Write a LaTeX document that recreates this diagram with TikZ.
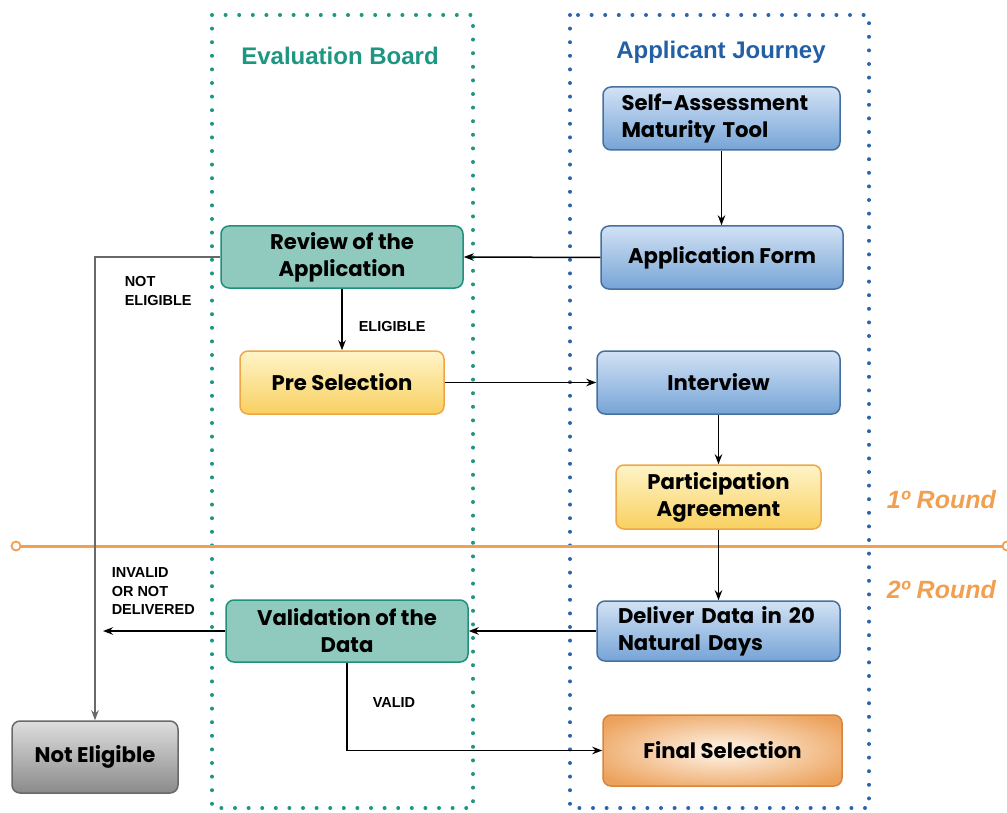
\documentclass[tikz,border=0pt]{standalone}
\usepackage{fontspec}
\setmainfont{Poppins}
\newfontfamily\arialfont{Liberation Sans}
\usetikzlibrary{arrows.meta}
\definecolor{node_blue_top}{RGB}{210,226,245}
\definecolor{node_blue_bot}{RGB}{118,164,214}
\definecolor{edge_blue}{RGB}{70,112,160}
\definecolor{node_teal}{RGB}{144,202,190}
\definecolor{edge_teal}{RGB}{30,145,125}
\definecolor{node_yel_top}{RGB}{255,244,200}
\definecolor{node_yel_bot}{RGB}{248,208,96}
\definecolor{edge_yel}{RGB}{240,165,70}
\definecolor{node_org_in}{RGB}{252,232,212}
\definecolor{node_org_out}{RGB}{236,162,92}
\definecolor{edge_org}{RGB}{214,134,60}
\definecolor{node_gray_top}{RGB}{222,222,222}
\definecolor{node_gray_bot}{RGB}{138,138,138}
\definecolor{edge_gray}{RGB}{105,105,105}
\definecolor{lane_teal}{RGB}{30,150,130}
\definecolor{lane_blue}{RGB}{45,100,175}
\definecolor{title_blue}{RGB}{35,95,165}
\definecolor{round_org}{RGB}{240,160,80}
\pgfdeclareradialshading{finshade}{\pgfpoint{0bp}{0bp}}{color(0bp)=(node_org_in); color(5bp)=(node_org_in); color(31bp)=(node_org_out); color(50bp)=(node_org_out)}

\begin{document}
\begin{tikzpicture}[x=1pt,y=-1pt,>={Stealth[length=10pt,width=7.5pt]},line width=1.5pt]
    \tikzstyle{box}=[rectangle, rounded corners=8pt, line width=1.5pt, inner sep=0pt,
      font=\fontsize{21.2}{27}\selectfont\bfseries, text=black, align=center]
    \tikzstyle{blue}=[style=box, draw=edge_blue, top color=node_blue_top, bottom color=node_blue_bot]
    \tikzstyle{teal}=[style=box, draw=edge_teal, fill=node_teal]
    \tikzstyle{yel}=[style=box, draw=edge_yel, top color=node_yel_top, bottom color=node_yel_bot]
    \tikzstyle{org}=[style=box, draw=edge_org, shading=finshade]
    \tikzstyle{gry}=[style=box, draw=edge_gray, top color=node_gray_top, bottom color=node_gray_bot]
    \tikzstyle{lane}=[line width=4pt, line cap=round, dash pattern=on 0pt off 13.6pt]
    \tikzstyle{lbl}=[font=\arialfont\fontsize{14.5}{18.5}\selectfont\bfseries, align=left, inner sep=0pt]
    \tikzstyle{rnd}=[font=\arialfont\fontsize{25}{30}\selectfont\bfseries\itshape, text=round_org, anchor=west, inner sep=0pt]

    \useasboundingbox (0,0) rectangle (1007,813);

    % swimlanes
    \draw[lane, lane_teal] (212,15) rectangle (473,808);
    \draw[lane, lane_blue] (570,15) rectangle (869,808);
    \node[font=\arialfont\fontsize{24}{28}\selectfont\bfseries, text=lane_teal] (evb) at (340,56) {Evaluation Board};
    \node[font=\arialfont\fontsize{24}{28}\selectfont\bfseries, text=title_blue] (apj) at (721,52) {Applicant Journey};

    % rounds
    \node[circle, draw=round_org, fill=white, line width=1.8pt, minimum size=9pt, inner sep=0pt] (rl) at (16,546) {};
    \node[circle, draw=round_org, fill=white, line width=1.8pt, minimum size=9pt, inner sep=0pt] (rr) at (1007,546) {};
    \draw[round_org, line width=3pt] (rl) -- (rr);
    \node[rnd] (r1) at (886,500) {1º Round};
    \node[rnd] (r2) at (886,590) {2º Round};

    % applicant journey
    \node[blue, minimum width=237pt, minimum height=63pt, text width=200pt, align=left] (sat) at (721.5,118.5) {Self-Assessment\\Maturity Tool};
    \node[blue, minimum width=242pt, minimum height=63pt] (apf) at (722,257.5) {Application Form};
    \node[blue, minimum width=243pt, minimum height=63pt] (int) at (718.5,382.5) {Interview};
    \node[yel, minimum width=205pt, minimum height=64pt] (pag) at (718.5,497) {Participation\\Agreement};
    \node[blue, minimum width=243pt, minimum height=60pt, text width=201pt, align=left] (ddd) at (718.5,631) {Deliver Data in 20\\Natural Days};
    \node[org, minimum width=239pt, minimum height=71pt] (fin) at (722.5,750.5) {Final Selection};

    % evaluation board
    \node[teal, minimum width=242pt, minimum height=62pt] (rev) at (342,257) {Review of the\\Application};
    \node[yel, minimum width=204pt, minimum height=63pt] (pre) at (342,382.5) {Pre Selection};
    \node[teal, minimum width=242pt, minimum height=62pt] (val) at (347,631) {Validation of the\\Data};
    \node[gry, minimum width=166pt, minimum height=72pt] (ne) at (95,757) {Not Eligible};

    \coordinate (inv) at (103,631);

    % connectors
    \draw[->] (sat.south) -- (sat.south |- apf.north);
    \draw[->] (apf.west) -- (rev.east);
    \draw[->, edge_gray] (rev.west) -| (ne.north);
    \draw[->] (rev.south) -- (pre.north);
    \draw[->] (pre.east) -- (int.west);
    \draw[->] (int.south) -- (pag.north);
    \draw[->] (pag.south) -- (ddd.north);
    \draw[->] (ddd.west) -- (val.east);
    \draw[->] (val.west) -- (inv);
    \draw[->] (val.south) |- (fin.west);

    % labels
    \node[lbl, anchor=north west] (lne) at (124,276) {NOT\\ELIGIBLE};
    \node[lbl, anchor=west] (lel) at (358,327) {ELIGIBLE};
    \node[lbl, anchor=north west] (lin) at (111,567) {INVALID\\OR NOT\\DELIVERED};
    \node[lbl, anchor=west] (lva) at (372,703) {VALID};
\end{tikzpicture}
\end{document}
